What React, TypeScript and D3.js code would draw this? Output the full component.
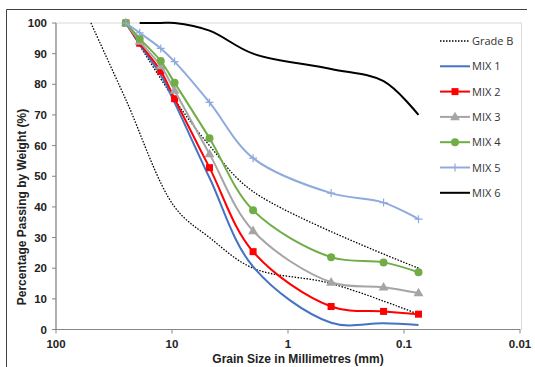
import * as d3 from "d3";

const width = 535;
const height = 367;
const margin = { top: 23, right: 15, bottom: 37.5, left: 56 };

// sieve sizes in mm
const sieves = [25, 19, 12.5, 9.5, 4.75, 2, 0.425, 0.15, 0.075];

const mix1 = [100, 93, 83, 74, 49.5, 20.5, 2.2, 2, 1.5];
const mix2 = [100, 93.4, 84.3, 75.3, 52.8, 25.4, 7.5, 5.9, 5.0];
const mix3 = [100, 94, 86, 78, 57.3, 32.2, 15.4, 13.8, 11.9];
const mix4 = [100, 94.9, 87.6, 80.5, 62.4, 38.9, 23.6, 21.9, 18.7];
const mix5 = [100, 96.8, 91.7, 87.4, 74.1, 55.9, 44.5, 41.4, 36.0];

const mix6Sieves = [19, 12.5, 9.5, 4.75, 2, 0.425, 0.15, 0.075];
const mix6 = [100, 100, 100, 97.5, 90, 85, 81, 70];

// Grade B envelope
const gradeUpperSieves = [25, 9.5, 4.75, 2, 0.075];
const gradeUpper = [100, 75, 60, 45, 20];
const gradeLowerSieves = [50, 25, 9.5, 4.75, 2, 0.425, 0.075];
const gradeLower = [100, 75, 40, 30, 20, 15, 5];

const xTicks = [100, 10, 1, 0.1, 0.01];
const yTicks = [0, 10, 20, 30, 40, 50, 60, 70, 80, 90, 100];

type Marker = "none" | "square" | "triangle" | "circle" | "plus";

type Series = {
  name: string;
  sizes: number[];
  values: number[];
  color: string;
  marker: Marker;
  dash?: string;
};

const series: Series[] = [
  { name: "MIX 1", sizes: sieves, values: mix1, color: "#4472c4", marker: "none" },
  { name: "MIX 2", sizes: sieves, values: mix2, color: "#ff0000", marker: "square" },
  { name: "MIX 3", sizes: sieves, values: mix3, color: "#a5a5a5", marker: "triangle" },
  { name: "MIX 4", sizes: sieves, values: mix4, color: "#70ad47", marker: "circle" },
  { name: "MIX 5", sizes: sieves, values: mix5, color: "#8faadc", marker: "plus" },
  { name: "MIX 6", sizes: mix6Sieves, values: mix6, color: "#000000", marker: "none" },
];

const legendItems = [
  { name: "Grade B", color: "#000000", marker: "none" as Marker, dash: "1.5 1.5" },
  ...series,
];

function MarkerShape({ type, x, y, color }: { type: Marker; x: number; y: number; color: string }) {
  if (type === "square") return <rect x={x - 3.5} y={y - 3.5} width={7} height={7} fill={color} />;
  if (type === "circle") return <circle cx={x} cy={y} r={4} fill={color} />;
  if (type === "triangle")
    return <path d={d3.symbol(d3.symbolTriangle, 42)()!} transform={`translate(${x},${y + 0.5})`} fill={color} />;
  if (type === "plus")
    return (
      <path
        d={`M${x - 4},${y}H${x + 4}M${x},${y - 4}V${y + 4}`}
        stroke={color}
        strokeWidth={1.2}
        fill="none"
      />
    );
  return null;
}

export default function App() {
  const x = d3
    .scaleLog()
    .domain([100, 0.01])
    .range([margin.left, width - margin.right]);
  const y = d3
    .scaleLinear()
    .domain([0, 100])
    .range([height - margin.bottom, margin.top]);

  const line = d3
    .line<[number, number]>()
    .x((d) => x(d[0]))
    .y((d) => y(d[1]))
    .curve(d3.curveCatmullRom.alpha(0.5));

  const pts = (s: number[], v: number[]) => s.map((d, i) => [d, v[i]] as [number, number]);

  const font = "'Liberation Sans', Arial, sans-serif";
  const legendX = 440;

  return (
    <svg
      width={width}
      height={height}
      style={{ position: "absolute", left: 0, top: 0, background: "#fff" }}
    >
      {/* outer frame */}
      <path d={`M6.5,${height}V9.5H527`} stroke="#404040" strokeWidth={1} fill="none" />

      {/* plot area border */}
      <rect
        x={x(100)}
        y={y(100)}
        width={x(0.01) - x(100) + 1.5}
        height={y(0) - y(100)}
        fill="none"
        stroke="#d9d9d9"
      />

      {/* axes */}
      <line x1={x(100)} x2={x(0.01)} y1={y(0)} y2={y(0)} stroke="#868686" strokeWidth={1.2} />
      <line x1={x(100)} x2={x(100)} y1={y(0)} y2={y(100)} stroke="#868686" strokeWidth={1.2} />
      {yTicks.map((t) => (
        <g key={t}>
          <line x1={x(100) - 4} x2={x(100)} y1={y(t)} y2={y(t)} stroke="#868686" />
          <text
            x={x(100) - 9}
            y={y(t) + 4}
            textAnchor="end"
            fontFamily={font}
            fontWeight="bold"
            fontSize={11.5}
            fill="#222"
          >
            {t}
          </text>
        </g>
      ))}
      {xTicks.map((t) => (
        <g key={t}>
          <line x1={x(t)} x2={x(t)} y1={y(0)} y2={y(0) + 4} stroke="#868686" />
          <text
            x={x(t)}
            y={y(0) + 18.5}
            textAnchor="middle"
            fontFamily={font}
            fontWeight="bold"
            fontSize={11.5}
            fill="#222"
          >
            {d3.format("")(t)}
          </text>
        </g>
      ))}

      <text
        x={298}
        y={363}
        textAnchor="middle"
        fontFamily={font}
        fontWeight="bold"
        fontSize={12}
        fill="#222"
      >
        Grain Size in Millimetres (mm)
      </text>
      <text
        transform={`translate(25.5,207) rotate(-90)`}
        textAnchor="middle"
        fontFamily={font}
        fontWeight="bold"
        fontSize={12}
        fill="#222"
      >
        Percentage Passing by Weight (%)
      </text>

      {/* Grade B envelope */}
      <path
        d={line(pts(gradeLowerSieves, gradeLower))!}
        fill="none"
        stroke="#000"
        strokeWidth={1.3}
        strokeDasharray="1.5 1.5"
      />
      <path
        d={line(pts(gradeUpperSieves, gradeUpper))!}
        fill="none"
        stroke="#000"
        strokeWidth={1.3}
        strokeDasharray="1.5 1.5"
      />

      {series.map((s) => (
        <g key={s.name}>
          <path d={line(pts(s.sizes, s.values))!} fill="none" stroke={s.color} strokeWidth={2} />
          {s.sizes.map((d, i) => (
            <MarkerShape key={i} type={s.marker} x={x(d)} y={y(s.values[i])} color={s.color} />
          ))}
        </g>
      ))}

      {/* legend */}
      {legendItems.map((item, i) => {
        const ly = 41 + i * 25.3;
        return (
          <g key={item.name}>
            <line
              x1={legendX}
              x2={legendX + 30}
              y1={ly}
              y2={ly}
              stroke={item.color}
              strokeWidth={item.dash ? 1.3 : 2}
              strokeDasharray={item.dash}
            />
            <MarkerShape type={item.marker} x={legendX + 15} y={ly} color={item.color} />
            <text
              x={legendX + 32}
              y={ly + 4}
              fontFamily="'Open Sans', sans-serif"
              fontSize={11}
              fill="#333"
            >
              {item.name}
            </text>
          </g>
        );
      })}
    </svg>
  );
}
